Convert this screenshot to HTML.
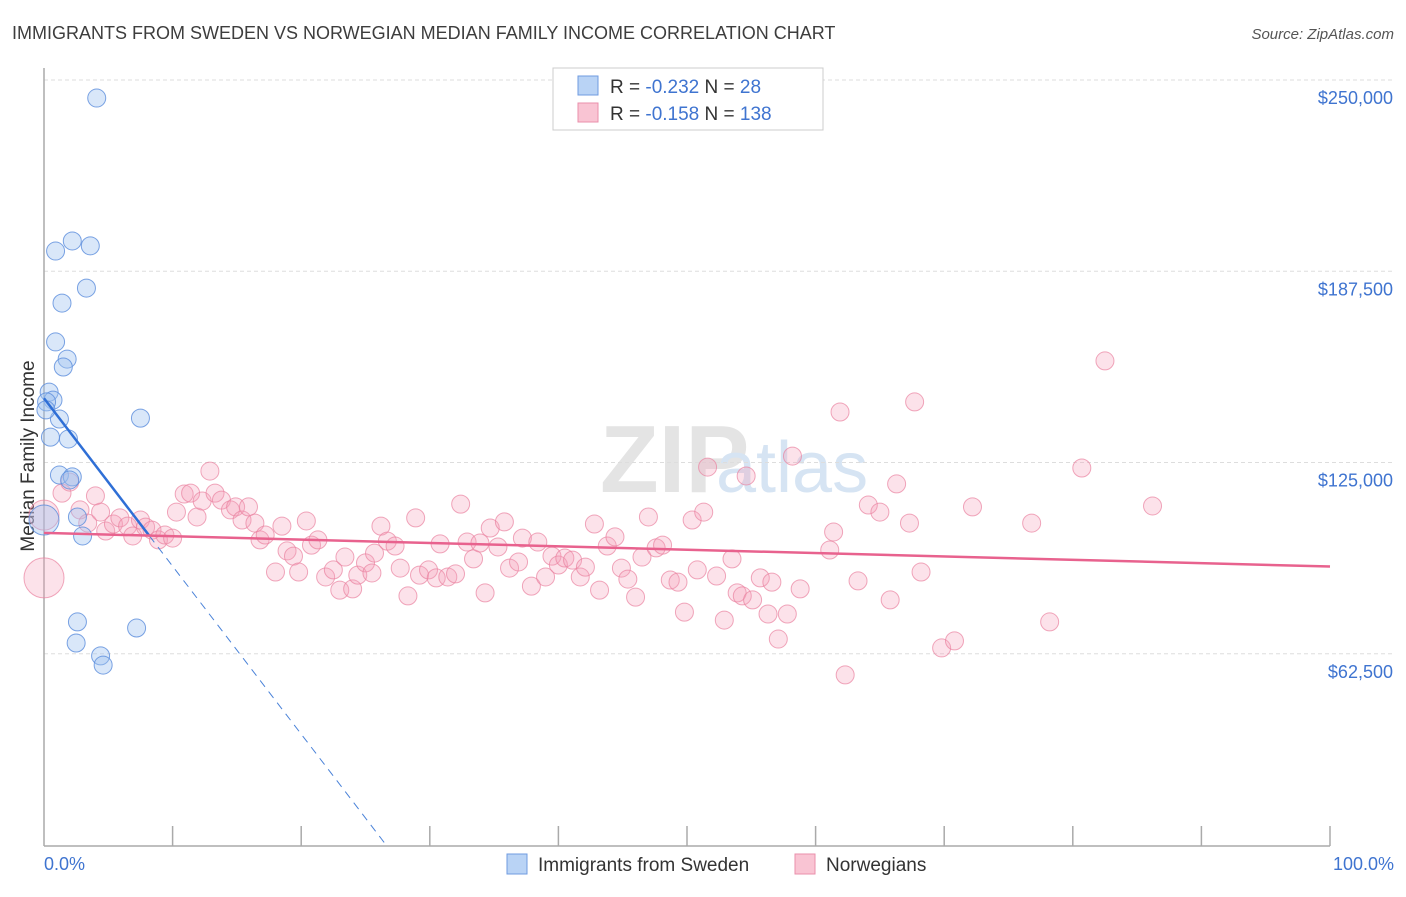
<!DOCTYPE html>
<html><head><meta charset="utf-8"><style>
body{margin:0;background:#fff;font-family:"Liberation Sans",sans-serif}
svg text{font-family:"Liberation Sans",sans-serif}
</style></head><body>
<svg id="chart" width="1406" height="892" viewBox="0 0 1406 892" xmlns="http://www.w3.org/2000/svg">
<text x="12" y="39" font-size="18" fill="#3d3d3d">IMMIGRANTS FROM SWEDEN VS NORWEGIAN MEDIAN FAMILY INCOME CORRELATION CHART</text>
<text x="1394" y="39" font-size="15" fill="#555" font-style="italic" text-anchor="end">Source: ZipAtlas.com</text>
<text x="600" y="492" font-size="96" fill="#e4e4e4" font-family="Liberation Serif" font-weight="bold">ZIP</text>
<text x="716" y="492" font-size="72" fill="#d6e4f3">atlas</text>
<text transform="translate(34,456) rotate(-90)" font-size="19" fill="#333" text-anchor="middle">Median Family Income</text>
<g id="grid"></g>
<line x1="44" y1="68" x2="44" y2="846" stroke="#aaa" stroke-width="1.5"/>
<line x1="44" y1="846" x2="1330" y2="846" stroke="#aaa" stroke-width="1.5"/>
<g id="xticks"></g>
<text x="44" y="870" font-size="18" fill="#3f74d0">0.0%</text>
<text x="1394" y="870" font-size="18" fill="#3f74d0" text-anchor="end">100.0%</text>
<g id="pink"></g><g id="blue"></g><g id="trends"></g>
<g>
<rect x="553" y="68" width="270" height="62" fill="#fff" stroke="#ccc"/>
<rect x="578" y="76" width="20" height="19" fill="#b9d3f5" stroke="#6f9be0"/>
<rect x="578" y="103" width="20" height="19" fill="#f9c4d3" stroke="#ea8fab"/>
<text x="610" y="93" font-size="19" fill="#333">R = <tspan fill="#3f74d0">-0.232</tspan>   N =  <tspan fill="#3f74d0"> 28</tspan></text>
<text x="610" y="120" font-size="19" fill="#333">R = <tspan fill="#3f74d0">-0.158</tspan>   N = <tspan fill="#3f74d0">138</tspan></text>
</g>
<rect x="507" y="854" width="20" height="20" fill="#b9d3f5" stroke="#6f9be0"/>
<text x="538" y="871" font-size="19" fill="#333">Immigrants from Sweden</text>
<rect x="795" y="854" width="20" height="20" fill="#f9c4d3" stroke="#ea8fab"/>
<text x="826" y="871" font-size="19" fill="#333">Norwegians</text>
</svg>
<script>
const yTicks=[62500,125000,187500,250000];
const yTickLabels=["$62,500","$125,000","$187,500","$250,000"];
const blueX=[4.1,0.9,2.2,3.6,3.3,1.4,0.9,1.8,1.5,0.4,0.7,0.2,1.2,7.5,0.5,1.9,1.2,2.2,2.0,2.6,3.0,0.0,2.6,2.5,4.4,4.6,7.2,0.15];
const blueY=[244.1,194.1,197.4,195.8,182.0,177.1,164.4,158.8,156.2,148.0,145.4,144.8,139.2,139.5,133.3,132.7,120.9,120.3,119.3,107.2,101.0,106.2,72.9,66.0,61.8,58.8,70.9,142.2];
const pinkX=[0,0,1.4,2.0,4.0,2.8,3.4,4.4,4.8,5.4,5.9,6.5,6.9,7.5,7.9,8.4,8.9,9.4,10.0,10.3,10.9,11.4,11.9,12.3,12.9,13.3,13.8,14.5,14.9,15.4,15.9,16.4,16.8,17.2,18.0,18.5,18.9,19.4,19.8,20.4,20.8,21.3,21.9,22.5,23.0,23.4,24.0,24.4,25.0,25.5,25.7,26.2,26.7,27.3,27.7,28.3,28.9,29.2,29.9,30.5,30.8,31.4,32.0,32.4,32.9,33.4,33.9,34.3,34.7,35.3,35.8,36.2,36.9,37.2,37.9,38.4,39.0,39.5,40.0,40.5,41.1,41.7,42.1,42.8,43.2,43.8,44.4,44.9,45.4,46.0,46.5,47.0,47.6,48.1,48.7,49.3,49.8,50.4,50.8,51.3,51.6,52.3,52.9,53.5,53.9,54.3,54.6,55.1,55.7,56.3,56.6,57.1,57.8,58.2,58.8,61.1,61.4,61.9,62.3,63.3,64.1,65.0,65.8,66.3,67.3,67.7,68.2,69.8,70.8,72.2,76.8,78.2,80.7,82.5,86.2];
const pinkY=[87.3,107.8,115.0,118.6,114.1,109.5,105.2,108.8,102.6,104.9,106.9,104.2,101.0,106.2,103.9,102.9,99.7,101.3,100.3,108.8,114.7,115.0,107.2,112.4,122.2,115.0,112.7,109.5,110.5,106.2,110.5,105.2,99.7,101.3,89.2,104.2,96.1,94.4,89.2,105.9,98.0,99.7,87.6,89.9,83.3,94.1,83.7,88.2,92.2,88.9,95.4,104.2,99.3,97.7,90.5,81.4,106.9,88.2,89.9,87.3,98.4,87.6,88.6,111.4,99.0,93.5,98.7,82.4,103.6,97.4,105.6,90.5,92.5,100.3,84.6,99.0,87.6,94.4,91.5,93.8,93.1,87.6,90.8,104.9,83.3,97.7,100.7,90.5,86.9,81.0,94.1,107.2,97.1,98.0,86.6,85.9,76.1,106.2,89.9,108.8,123.5,87.9,73.5,93.5,82.4,81.4,120.6,80.1,87.3,75.5,85.9,67.3,75.5,127.1,83.7,96.4,102.3,141.5,55.6,86.3,111.1,108.8,80.1,118.0,105.2,144.8,89.2,64.4,66.7,110.5,105.2,72.9,123.2,158.2,110.8];
const pinkR=[20,15];
const blueBig={21:15};
const blueTrend=[0,146,8.2,101];
const pinkTrend=[0,102,100,91];
const NS="http://www.w3.org/2000/svg";
function sx(v){return 44+v*12.86;}
function sy(k){return 845-k*3.06;}
function mk(t,a){const e=document.createElementNS(NS,t);for(const k in a)e.setAttribute(k,a[k]);return e;}
const grid=document.getElementById('grid');
yTicks.forEach((t,i)=>{
 const l=mk('line',{x1:44,x2:1394,y1:sy(t/1000),y2:sy(t/1000),stroke:'#ddd','stroke-dasharray':'4,3'});
 
 
 grid.appendChild(l);
 const tx=mk('text',{x:1393,y:sy(t/1000)+24,'font-size':18,fill:'#3f74d0','text-anchor':'end'});
 tx.textContent=yTickLabels[i];
 
 
 grid.appendChild(tx);
});
const xt=document.getElementById('xticks');
for(let i=1;i<=10;i++){
 const l=mk('line',{x1:sx(i*10),x2:sx(i*10),y1:826,y2:846,stroke:'#aaa','stroke-width':1.5});
 
 
 xt.appendChild(l);
}
const pg=document.getElementById('pink');
pinkX.forEach((x,i)=>{
 const c=mk('circle',{cx:sx(x),cy:sy(pinkY[i]),r:pinkR[i]||9,fill:'rgba(244,160,185,0.3)',stroke:'rgba(234,130,160,0.7)','stroke-width':1});
 
 
 pg.appendChild(c);
});
const bg=document.getElementById('blue');
blueX.forEach((x,i)=>{
 const c=mk('circle',{cx:sx(x),cy:sy(blueY[i]),r:blueBig[i]||9,fill:'rgba(160,195,240,0.4)',stroke:'rgba(90,140,220,0.8)','stroke-width':1});
 
 
 bg.appendChild(c);
});
const tg=document.getElementById('trends');
const slope=(blueTrend[3]-blueTrend[1])/(blueTrend[2]-blueTrend[0]);
const xZero=blueTrend[0]-blueTrend[1]/slope;
const bd=mk('line',{x1:sx(blueTrend[2]),y1:sy(blueTrend[3]),x2:sx(xZero),y2:sy(0),stroke:'#4a82d8','stroke-width':1,'stroke-dasharray':'8,6'});


tg.appendChild(bd);
const bs=mk('line',{x1:sx(blueTrend[0]),y1:sy(blueTrend[1]),x2:sx(blueTrend[2]),y2:sy(blueTrend[3]),stroke:'#2f6fd6','stroke-width':2.5});


tg.appendChild(bs);
const ps=mk('line',{x1:sx(pinkTrend[0]),y1:sy(pinkTrend[1]),x2:sx(pinkTrend[2]),y2:sy(pinkTrend[3]),stroke:'#e8628e','stroke-width':2.5});


tg.appendChild(ps);
</script>
</body></html>
